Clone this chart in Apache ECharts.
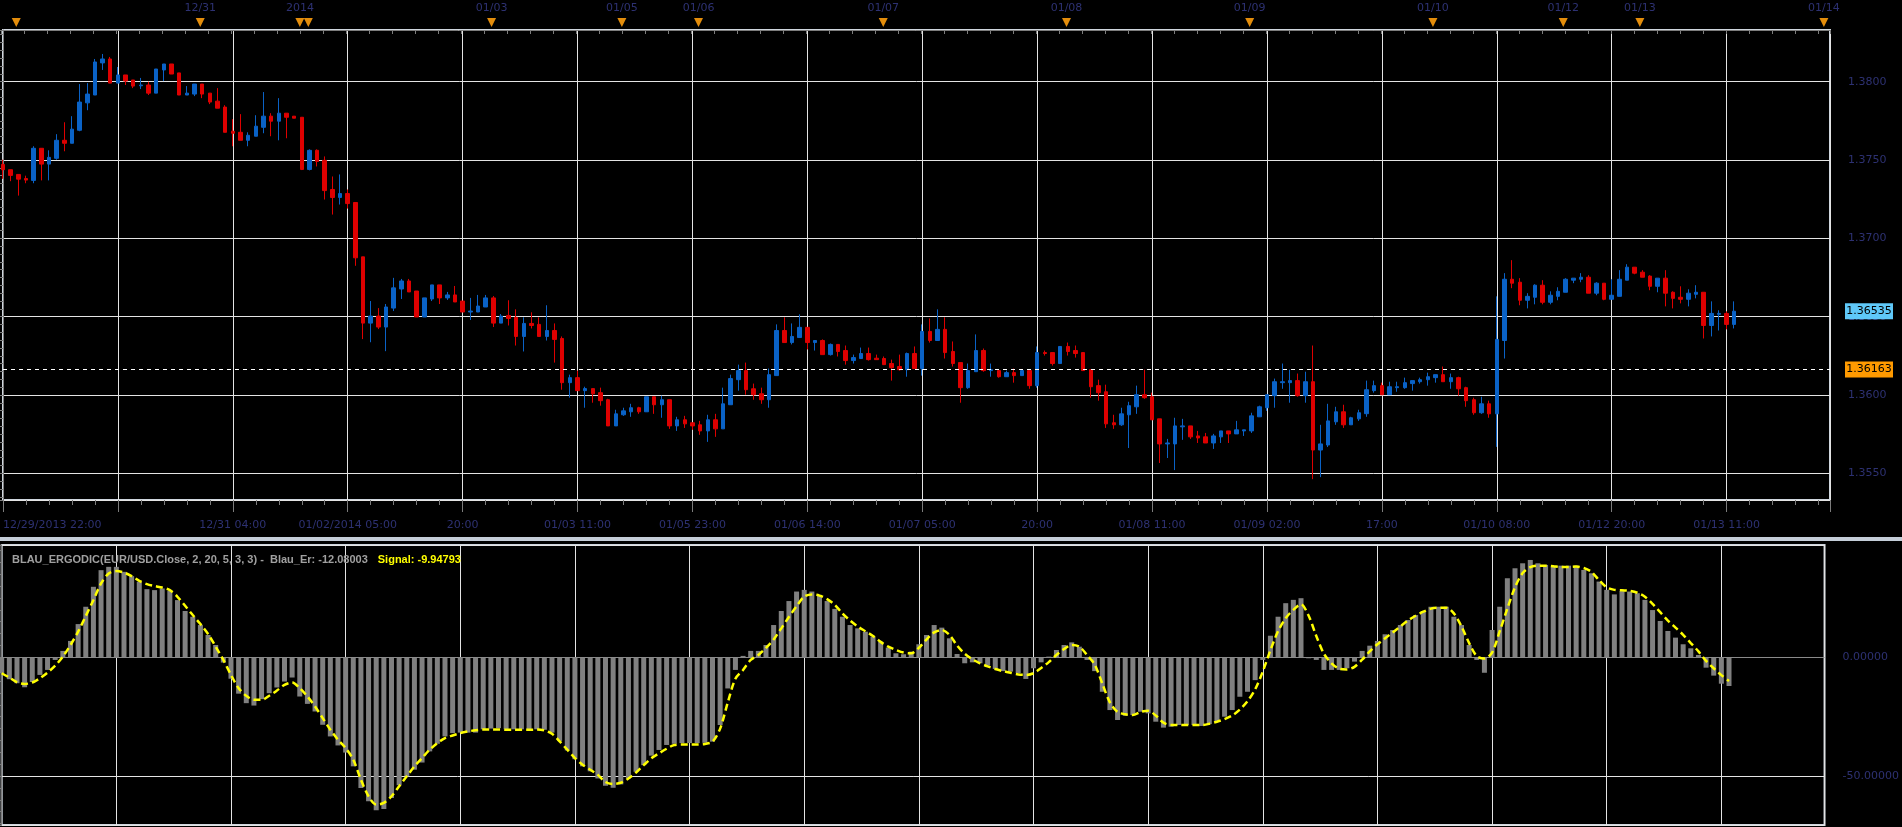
<!DOCTYPE html>
<html>
<head>
<meta charset="utf-8">
<title>EUR/USD H1 - BLAU_ERGODIC</title>
<script src="https://cdn.jsdelivr.net/npm/echarts@6/dist/echarts.min.js"></script>
<style>
  html, body { margin: 0; padding: 0; background: #000; }
  #chart { width: 1902px; height: 827px; }
</style>
</head>
<body>
<div id="chart"></div>
<script>
// hourly candles, one row per bar: [open, close, low, high]
const ohlc = [
  [1.37472, 1.37438, 1.37380, 1.37502], [1.37438, 1.37402, 1.37365, 1.37438], [1.37408, 1.37378, 1.37273, 1.37408],
  [1.37382, 1.37372, 1.37352, 1.37400], [1.37370, 1.37575, 1.37352, 1.37588], [1.37575, 1.37474, 1.37370, 1.37575],
  [1.37474, 1.37517, 1.37370, 1.37562], [1.37511, 1.37626, 1.37502, 1.37665], [1.37626, 1.37607, 1.37556, 1.37741],
  [1.37607, 1.37697, 1.37607, 1.37780], [1.37690, 1.37870, 1.37684, 1.37985], [1.37865, 1.37921, 1.37818, 1.37991],
  [1.37915, 1.38126, 1.37915, 1.38145], [1.38120, 1.38145, 1.38075, 1.38177], [1.38145, 1.37991, 1.37991, 1.38158],
  [1.37991, 1.38043, 1.37991, 1.38094], [1.38043, 1.38004, 1.37979, 1.38043], [1.38011, 1.37972, 1.37959, 1.38011],
  [1.37974, 1.37979, 1.37953, 1.38024], [1.37979, 1.37927, 1.37915, 1.38000], [1.37927, 1.38081, 1.37927, 1.38081],
  [1.38075, 1.38113, 1.38004, 1.38113], [1.38113, 1.38049, 1.38049, 1.38113], [1.38056, 1.37915, 1.37915, 1.38056],
  [1.37915, 1.37927, 1.37915, 1.37972], [1.37921, 1.37985, 1.37908, 1.37985], [1.37985, 1.37921, 1.37895, 1.37985],
  [1.37927, 1.37870, 1.37857, 1.37927], [1.37876, 1.37831, 1.37831, 1.37959], [1.37838, 1.37677, 1.37677, 1.37850],
  [1.37684, 1.37671, 1.37588, 1.37761], [1.37677, 1.37626, 1.37626, 1.37793], [1.37626, 1.37658, 1.37588, 1.37677],
  [1.37652, 1.37716, 1.37652, 1.37786], [1.37709, 1.37780, 1.37671, 1.37934], [1.37780, 1.37748, 1.37652, 1.37799],
  [1.37748, 1.37799, 1.37626, 1.37895], [1.37799, 1.37773, 1.37639, 1.37799], [1.37780, 1.37767, 1.37767, 1.37780],
  [1.37773, 1.37440, 1.37436, 1.37773], [1.37440, 1.37562, 1.37434, 1.37568], [1.37562, 1.37491, 1.37459, 1.37568],
  [1.37498, 1.37305, 1.37248, 1.37523], [1.37312, 1.37261, 1.37152, 1.37395], [1.37261, 1.37286, 1.37216, 1.37408],
  [1.37286, 1.37222, 1.37190, 1.37312], [1.37229, 1.36876, 1.36825, 1.37229], [1.36882, 1.36459, 1.36357, 1.36882],
  [1.36459, 1.36504, 1.36337, 1.36600], [1.36504, 1.36434, 1.36421, 1.36555], [1.36434, 1.36562, 1.36280, 1.36581],
  [1.36555, 1.36684, 1.36536, 1.36748], [1.36677, 1.36728, 1.36613, 1.36741], [1.36728, 1.36658, 1.36658, 1.36741],
  [1.36664, 1.36498, 1.36498, 1.36664], [1.36498, 1.36620, 1.36498, 1.36620], [1.36613, 1.36703, 1.36600, 1.36703],
  [1.36703, 1.36620, 1.36581, 1.36703], [1.36620, 1.36639, 1.36607, 1.36658], [1.36639, 1.36594, 1.36594, 1.36696],
  [1.36600, 1.36530, 1.36530, 1.36600], [1.36530, 1.36536, 1.36479, 1.36620], [1.36530, 1.36568, 1.36530, 1.36639],
  [1.36562, 1.36620, 1.36562, 1.36639], [1.36620, 1.36459, 1.36434, 1.36632], [1.36459, 1.36504, 1.36459, 1.36517],
  [1.36508, 1.36489, 1.36444, 1.36605], [1.36496, 1.36374, 1.36316, 1.36547], [1.36374, 1.36457, 1.36278, 1.36496],
  [1.36457, 1.36444, 1.36425, 1.36528], [1.36451, 1.36374, 1.36374, 1.36496], [1.36374, 1.36412, 1.36348, 1.36573],
  [1.36412, 1.36355, 1.36207, 1.36457], [1.36361, 1.36079, 1.36034, 1.36374], [1.36079, 1.36111, 1.35983, 1.36130],
  [1.36111, 1.36028, 1.36028, 1.36156], [1.36028, 1.36041, 1.35919, 1.36053], [1.36041, 1.36008, 1.35951, 1.36041],
  [1.36015, 1.35964, 1.35932, 1.36047], [1.35970, 1.35803, 1.35803, 1.35976], [1.35803, 1.35880, 1.35803, 1.35906],
  [1.35874, 1.35899, 1.35867, 1.35919], [1.35893, 1.35919, 1.35861, 1.35944], [1.35919, 1.35893, 1.35880, 1.35925],
  [1.35893, 1.35989, 1.35893, 1.35989], [1.35989, 1.35938, 1.35880, 1.35989], [1.35938, 1.35970, 1.35855, 1.35996],
  [1.35970, 1.35803, 1.35784, 1.35970], [1.35803, 1.35842, 1.35771, 1.35861], [1.35842, 1.35816, 1.35790, 1.35867],
  [1.35823, 1.35803, 1.35778, 1.35823], [1.35810, 1.35771, 1.35746, 1.35835], [1.35771, 1.35842, 1.35701, 1.35874],
  [1.35842, 1.35784, 1.35733, 1.35880], [1.35784, 1.35944, 1.35784, 1.36047], [1.35938, 1.36105, 1.35938, 1.36130],
  [1.36098, 1.36156, 1.36028, 1.36194], [1.36156, 1.36034, 1.36002, 1.36207], [1.36040, 1.36002, 1.35970, 1.36073],
  [1.36008, 1.35970, 1.35944, 1.36047], [1.35970, 1.36130, 1.35919, 1.36169], [1.36124, 1.36412, 1.36124, 1.36451],
  [1.36412, 1.36335, 1.36335, 1.36496], [1.36335, 1.36374, 1.36323, 1.36457], [1.36367, 1.36432, 1.36367, 1.36515],
  [1.36432, 1.36335, 1.36291, 1.36432], [1.36335, 1.36348, 1.36284, 1.36348], [1.36348, 1.36258, 1.36258, 1.36355],
  [1.36258, 1.36323, 1.36252, 1.36329], [1.36323, 1.36278, 1.36246, 1.36323], [1.36284, 1.36220, 1.36194, 1.36316],
  [1.36220, 1.36239, 1.36201, 1.36258], [1.36233, 1.36265, 1.36233, 1.36303], [1.36265, 1.36226, 1.36220, 1.36303],
  [1.36235, 1.36226, 1.36226, 1.36258], [1.36233, 1.36194, 1.36194, 1.36246], [1.36201, 1.36175, 1.36092, 1.36226],
  [1.36182, 1.36162, 1.36156, 1.36258], [1.36162, 1.36265, 1.36117, 1.36271], [1.36265, 1.36169, 1.36169, 1.36310],
  [1.36169, 1.36406, 1.36124, 1.36451], [1.36406, 1.36348, 1.36335, 1.36489], [1.36348, 1.36419, 1.36348, 1.36547],
  [1.36419, 1.36271, 1.36233, 1.36496], [1.36278, 1.36201, 1.36182, 1.36342], [1.36207, 1.36047, 1.35951, 1.36207],
  [1.36047, 1.36156, 1.36040, 1.36201], [1.36149, 1.36284, 1.36149, 1.36387], [1.36284, 1.36156, 1.36149, 1.36297],
  [1.36156, 1.36162, 1.36117, 1.36201], [1.36156, 1.36117, 1.36111, 1.36156], [1.36117, 1.36143, 1.36117, 1.36156],
  [1.36143, 1.36124, 1.36079, 1.36169], [1.36124, 1.36156, 1.36124, 1.36162], [1.36156, 1.36060, 1.36040, 1.36156],
  [1.36060, 1.36271, 1.36047, 1.36310], [1.36271, 1.36265, 1.36252, 1.36284], [1.36271, 1.36201, 1.36188, 1.36271],
  [1.36201, 1.36310, 1.36201, 1.36310], [1.36310, 1.36278, 1.36252, 1.36335], [1.36284, 1.36265, 1.36239, 1.36316],
  [1.36271, 1.36156, 1.36156, 1.36271], [1.36162, 1.36053, 1.35983, 1.36162], [1.36060, 1.36015, 1.35964, 1.36098],
  [1.36021, 1.35816, 1.35790, 1.36066], [1.35823, 1.35810, 1.35784, 1.35874], [1.35810, 1.35880, 1.35803, 1.35919],
  [1.35874, 1.35932, 1.35662, 1.35957], [1.35925, 1.36002, 1.35880, 1.36060], [1.36002, 1.35983, 1.35976, 1.36162],
  [1.35989, 1.35842, 1.35842, 1.36015], [1.35848, 1.35688, 1.35566, 1.35848], [1.35688, 1.35694, 1.35598, 1.35720],
  [1.35688, 1.35803, 1.35521, 1.35855], [1.35797, 1.35803, 1.35714, 1.35848], [1.35803, 1.35733, 1.35720, 1.35803],
  [1.35739, 1.35726, 1.35694, 1.35771], [1.35733, 1.35694, 1.35694, 1.35758], [1.35694, 1.35739, 1.35656, 1.35752],
  [1.35733, 1.35771, 1.35694, 1.35771], [1.35771, 1.35752, 1.35694, 1.35771], [1.35752, 1.35778, 1.35752, 1.35835],
  [1.35771, 1.35778, 1.35739, 1.35778], [1.35771, 1.35867, 1.35758, 1.35887], [1.35861, 1.35925, 1.35861, 1.35932],
  [1.35919, 1.36002, 1.35899, 1.36002], [1.35996, 1.36085, 1.35919, 1.36105], [1.36079, 1.36085, 1.36040, 1.36201],
  [1.36079, 1.36092, 1.35951, 1.36162], [1.36092, 1.35996, 1.35989, 1.36137], [1.35996, 1.36085, 1.35951, 1.36149],
  [1.36085, 1.35649, 1.35463, 1.36316], [1.35649, 1.35688, 1.35476, 1.35810], [1.35681, 1.35835, 1.35668, 1.35944],
  [1.35829, 1.35893, 1.35810, 1.35925], [1.35893, 1.35810, 1.35790, 1.35938], [1.35810, 1.35855, 1.35810, 1.35861],
  [1.35848, 1.35887, 1.35835, 1.35906], [1.35881, 1.36034, 1.35861, 1.36092], [1.36028, 1.36060, 1.36015, 1.36092],
  [1.36060, 1.36002, 1.36002, 1.36079], [1.36002, 1.36053, 1.36002, 1.36085], [1.36047, 1.36053, 1.36021, 1.36085],
  [1.36047, 1.36079, 1.36040, 1.36111], [1.36073, 1.36092, 1.36028, 1.36092], [1.36085, 1.36098, 1.36073, 1.36111],
  [1.36098, 1.36117, 1.36060, 1.36143], [1.36111, 1.36130, 1.36079, 1.36130], [1.36130, 1.36085, 1.36085, 1.36182],
  [1.36085, 1.36111, 1.36040, 1.36137], [1.36111, 1.36040, 1.35996, 1.36117], [1.36047, 1.35964, 1.35925, 1.36053],
  [1.35970, 1.35887, 1.35874, 1.35983], [1.35887, 1.35944, 1.35880, 1.35989], [1.35944, 1.35880, 1.35855, 1.35964],
  [1.35880, 1.36355, 1.35669, 1.36630], [1.36348, 1.36739, 1.36233, 1.36778], [1.36739, 1.36714, 1.36682, 1.36861],
  [1.36720, 1.36605, 1.36573, 1.36746], [1.36605, 1.36630, 1.36553, 1.36650], [1.36624, 1.36701, 1.36579, 1.36707],
  [1.36701, 1.36592, 1.36579, 1.36733], [1.36592, 1.36637, 1.36579, 1.36662], [1.36630, 1.36662, 1.36605, 1.36688],
  [1.36656, 1.36739, 1.36656, 1.36746], [1.36733, 1.36746, 1.36714, 1.36746], [1.36739, 1.36752, 1.36720, 1.36778],
  [1.36752, 1.36650, 1.36650, 1.36765], [1.36650, 1.36714, 1.36637, 1.36720], [1.36714, 1.36611, 1.36605, 1.36714],
  [1.36611, 1.36637, 1.36611, 1.36739], [1.36630, 1.36739, 1.36630, 1.36797], [1.36733, 1.36816, 1.36733, 1.36835],
  [1.36816, 1.36778, 1.36771, 1.36816], [1.36784, 1.36752, 1.36752, 1.36797], [1.36759, 1.36694, 1.36669, 1.36765],
  [1.36694, 1.36746, 1.36656, 1.36746], [1.36746, 1.36650, 1.36566, 1.36797], [1.36656, 1.36617, 1.36553, 1.36662],
  [1.36624, 1.36611, 1.36585, 1.36694], [1.36611, 1.36650, 1.36566, 1.36675], [1.36643, 1.36656, 1.36617, 1.36701],
  [1.36656, 1.36444, 1.36361, 1.36656], [1.36444, 1.36521, 1.36374, 1.36598], [1.36515, 1.36521, 1.36412, 1.36541],
  [1.36521, 1.36451, 1.36419, 1.36534], [1.36451, 1.36535, 1.36425, 1.36598]
];

// indicator histogram (Blau_Er), one value per candle
const blauEr = [
  -6.7, -9.2, -10.9, -12.6, -10.4, -7.4, -5.3, -1.1, 2.7, 6.9,
  14.0, 21.3, 29.7, 36.7, 38.1, 38.1, 36.0, 34.2, 31.8, 28.7,
  28.3, 29.0, 28.0, 24.1, 19.5, 17.1, 13.6, 9.4, 5.2, -2.2,
  -9.0, -15.3, -19.3, -20.3, -17.6, -15.1, -12.7, -10.2, -8.5, -16.5,
  -19.6, -22.8, -28.4, -33.3, -37.1, -40.1, -45.9, -55.0, -60.6, -64.4,
  -63.9, -59.2, -53.9, -50.1, -47.3, -44.3, -39.6, -36.4, -33.3, -31.9,
  -31.7, -31.7, -31.7, -30.3, -30.0, -29.8, -30.3, -30.3, -30.3, -30.3,
  -30.3, -30.5, -31.7, -35.2, -39.2, -42.9, -45.9, -48.0, -51.0, -54.1,
  -54.9, -53.5, -51.0, -48.2, -45.4, -41.4, -39.0, -36.9, -36.4, -36.1,
  -36.1, -36.1, -36.0, -35.5, -28.5, -13.1, -5.3, 0.6, 2.7, 2.7,
  5.2, 13.6, 19.5, 23.7, 27.7, 28.4, 27.7, 26.3, 23.7, 20.4,
  17.1, 13.6, 12.2, 10.8, 8.7, 6.6, 4.1, 1.7, 1.3, 2.4,
  5.5, 9.4, 13.6, 12.5, 8.0, 1.4, -2.5, -2.1, -2.5, -3.5,
  -4.9, -5.8, -6.0, -6.7, -9.1, -4.6, -2.1, 0.3, 3.1, 5.2,
  6.3, 4.5, -1.1, -5.8, -14.5, -22.2, -26.4, -24.6, -24.3, -22.9,
  -23.6, -27.1, -29.6, -29.2, -28.5, -28.5, -28.5, -28.9, -28.1, -27.1,
  -25.0, -22.2, -16.6, -14.5, -9.6, -1.1, 9.1, 17.1, 22.8, 24.2,
  24.9, -0.4, -1.1, -5.3, -5.3, -5.3, -4.6, -1.8, 2.7, 4.9,
  6.9, 9.7, 11.5, 13.6, 15.7, 17.8, 19.5, 21.3, 21.3, 21.3,
  17.1, 13.6, 5.2, -1.1, -6.5, 11.5, 21.3, 33.3, 37.5, 39.6,
  41.0, 39.6, 38.9, 38.2, 38.6, 38.6, 38.6, 36.8, 35.4, 31.9,
  28.4, 26.5, 27.9, 27.7, 27.0, 24.2, 19.9, 15.3, 11.1, 8.3,
  5.5, 3.8, 1.0, -4.35, -7.7, -11.1, -12.08003
];

// signal line, one value per candle
const signal = [
  -6.7, -8.5, -10.5, -11.2, -10.6, -8.8, -6.4, -3.5, 0.3, 5.2,
  10.8, 17.4, 24.1, 31.1, 35.3, 36.3, 35.7, 34.2, 32.2, 30.8,
  30.0, 29.4, 28.3, 25.5, 21.7, 17.8, 14.0, 9.8, 4.5, -1.1,
  -7.4, -13.0, -16.2, -17.9, -17.9, -16.2, -14.0, -11.6, -10.6, -13.0,
  -16.5, -20.7, -25.6, -30.5, -34.7, -38.2, -43.1, -51.5, -58.5, -62.0,
  -61.3, -58.5, -54.3, -50.1, -45.9, -42.4, -38.9, -36.1, -34.0, -32.9,
  -31.9, -31.2, -30.7, -30.4, -30.4, -30.4, -30.5, -30.5, -30.5, -30.5,
  -30.4, -30.8, -32.2, -35.4, -38.9, -42.4, -45.2, -47.3, -49.5, -52.5,
  -53.3, -52.8, -51.0, -48.5, -45.4, -42.5, -40.4, -38.5, -36.9, -36.7,
  -36.7, -36.7, -36.5, -35.5, -30.0, -19.0, -9.0, -5.3, -1.1, 1.0,
  4.0, 7.5, 12.2, 17.0, 21.5, 25.6, 26.5, 26.0, 24.5, 22.1,
  18.5, 15.5, 13.0, 11.0, 9.0, 6.5, 4.5, 3.1, 2.0, 1.7,
  4.0, 7.5, 10.5, 11.5, 9.5, 5.0, 1.5, -0.8, -2.5, -3.8,
  -4.9, -5.8, -6.5, -7.2, -7.4, -6.7, -4.5, -2.0, 1.0, 3.5,
  5.2, 4.5, 1.0, -3.0, -11.0, -19.0, -23.0, -24.0, -24.3, -23.0,
  -22.5, -24.5, -27.5, -28.5, -28.5, -28.5, -28.5, -28.5, -28.0, -27.1,
  -26.0, -24.5, -22.0, -18.5, -13.5, -6.0, 3.0, 11.0, 16.5, 20.0,
  22.3, 17.5, 9.0, 1.5, -2.5, -4.8, -5.1, -4.0, -1.0, 2.5,
  5.5, 8.0, 10.5, 13.0, 15.5, 17.5, 19.2, 20.5, 20.9, 20.9,
  18.5, 13.0, 6.0, 0.5, -0.5, 2.0, 11.0, 20.5, 29.5, 35.5,
  38.0, 38.6, 38.6, 38.4, 38.0, 38.0, 38.2, 37.6, 36.0, 32.5,
  29.5, 28.4, 28.2, 28.0, 27.2, 25.5, 22.5, 19.0, 15.5, 12.5,
  9.5, 6.0, 2.5, -1.5, -4.6, -7.5, -9.94793
];

// bottom time labels, one per 15 bars (grid line)
const timeLabels = [
  '12/29/2013 22:00', '', '12/31 04:00', '01/02/2014 05:00', '20:00', '01/03 11:00',
  '01/05 23:00', '01/06 14:00', '01/07 05:00', '20:00', '01/08 11:00', '01/09 02:00',
  '17:00', '01/10 08:00', '01/12 20:00', '01/13 11:00'
];

// day separators on the top scale: [bar position, label]
const dayMarks = [
  [1.9, ''], [25.9, '12/31'], [38.9, '2014'], [40.0, ''], [63.9, '01/03'],
  [80.9, '01/05'], [90.9, '01/06'], [115.0, '01/07'], [138.9, '01/08'],
  [162.8, '01/09'], [186.7, '01/10'], [203.7, '01/12'], [213.7, '01/13'], [237.7, '01/14']
];

const lastPrice = 1.36535;
const refPrice = 1.36163;

const X_MAX = 238.5;
const NAVY = '#2d3172';
const GRID_LINE = '#e4e4e4';
const AXIS_GRAY = '#7c7c7c';
const FRAME = '#cfd6de';
const AXIS_FONT = 'DejaVu Sans';

const chart = echarts.init(document.getElementById('chart'));

function xLabel(v) {
  const k = Math.round(v / 15);
  if (Math.abs(v - k * 15) > 1e-6) return '';
  return timeLabels[k] || '';
}

chart.setOption({
  backgroundColor: '#000',
  animation: false,
  title: {
    left: 7,
    top: 546,
    text: '{a|BLAU_ERGODIC(EUR/USD.Close, 2, 20, 5, 3, 3) -  Blau_Er: ' +
      blauEr[blauEr.length - 1].toFixed(5) + '}  {b|Signal: ' +
      signal[signal.length - 1].toFixed(5) + '}',
    textStyle: {
      rich: {
        a: { color: '#a0a0a0', fontSize: 11, fontFamily: 'Liberation Sans' },
        b: { color: '#ffff00', fontSize: 11, fontFamily: 'Liberation Sans' }
      }
    }
  },
  graphic: [
    { type: 'rect', shape: { x: 0, y: 537, width: 1902, height: 4 }, style: { fill: '#c4cdd8' }, silent: true }
  ],
  grid: [
    { left: 1.7, right: 72, top: 30, height: 470, show: true, borderColor: FRAME, borderWidth: 2, backgroundColor: 'transparent' },
    { left: 1.7, right: 72, top: 545, height: 280, show: true, borderColor: FRAME, borderWidth: 2, backgroundColor: 'transparent' },
    { left: 1.7, right: 72, top: 17, height: 13 }
  ],
  xAxis: [
    {
      type: 'value', gridIndex: 0, min: 0, max: X_MAX, interval: 15,
      axisLine: { show: false },
      axisTick: { show: true, length: 12, lineStyle: { color: AXIS_GRAY } },
      minorTick: { show: true, splitNumber: 5, length: 5, lineStyle: { color: AXIS_GRAY } },
      axisLabel: {
        color: NAVY, fontSize: 11, fontFamily: AXIS_FONT, margin: 20,
        formatter: xLabel, alignMinLabel: 'left', showMaxLabel: false
      },
      splitLine: { show: true, lineStyle: { color: GRID_LINE, width: 1 } }
    },
    {
      type: 'value', gridIndex: 1, min: 0, max: X_MAX, interval: 15,
      axisLine: { show: false }, axisTick: { show: false }, axisLabel: { show: false },
      splitLine: { show: true, lineStyle: { color: GRID_LINE, width: 1 } }
    },
    {
      type: 'value', gridIndex: 2, position: 'top', min: 0, max: X_MAX, interval: 15,
      axisLine: { show: true, lineStyle: { color: AXIS_GRAY } },
      axisTick: { show: true, inside: true, length: 4, lineStyle: { color: AXIS_GRAY } },
      minorTick: { show: true, splitNumber: 5, length: 4, lineStyle: { color: AXIS_GRAY } },
      axisLabel: { show: false }, splitLine: { show: false }
    }
  ],
  yAxis: [
    {
      type: 'value', gridIndex: 0, position: 'right', offset: 14,
      min: 1.3533, max: 1.3833, splitNumber: 6, scale: true,
      axisLine: { show: true, lineStyle: { color: AXIS_GRAY } },
      axisTick: { show: true, inside: true, length: 14, lineStyle: { color: AXIS_GRAY } },
      minorTick: { show: true, splitNumber: 10, length: 6, lineStyle: { color: AXIS_GRAY } },
      axisLabel: {
        color: NAVY, fontSize: 11, fontFamily: AXIS_FONT, margin: 4,
        showMinLabel: false, showMaxLabel: false,
        formatter: v => v.toFixed(4)
      },
      splitLine: { show: true, lineStyle: { color: GRID_LINE, width: 1 } }
    },
    {
      type: 'value', gridIndex: 1, position: 'right', offset: 14,
      min: -70.6, max: 47.3, splitNumber: 2,
      axisLine: { show: true, lineStyle: { color: AXIS_GRAY } },
      axisTick: { show: true, inside: true, length: 14, lineStyle: { color: AXIS_GRAY } },
      minorTick: { show: true, splitNumber: 10, length: 6, lineStyle: { color: AXIS_GRAY } },
      axisLabel: {
        color: NAVY, fontSize: 11, fontFamily: AXIS_FONT, margin: 4,
        showMinLabel: false, showMaxLabel: false,
        formatter: v => v.toFixed(5)
      },
      splitLine: { show: true, lineStyle: { color: GRID_LINE, width: 1 } }
    },
    { type: 'value', gridIndex: 2, min: 0, max: 1, show: false }
  ],
  series: [
    {
      name: 'EUR/USD',
      type: 'candlestick',
      xAxisIndex: 0, yAxisIndex: 0,
      clip: false,
      barWidth: 4,
      encode: { x: 0, y: [1, 2, 3, 4] },
      data: ohlc.map((d, i) => [i, d[0], d[1], d[2], d[3]]),
      itemStyle: {
        color: '#0a62c6', color0: '#de0000',
        borderColor: '#0a62c6', borderColor0: '#de0000', borderWidth: 1
      },
      markLine: {
        silent: true, symbol: 'none', animation: false,
        precision: 5,
        label: { show: false },
        lineStyle: { color: '#ffffff', width: 1, type: [4, 4] },
        data: [{ yAxis: refPrice }]
      }
    },
    {
      // price tags on the right scale
      name: 'tags',
      type: 'scatter',
      xAxisIndex: 0, yAxisIndex: 0,
      clip: false,
      silent: true,
      symbol: 'rect',
      symbolSize: [48, 16],
      symbolOffset: [39, 0],
      z: 10,
      data: [
        { value: [X_MAX, lastPrice], itemStyle: { color: '#5fc8f8', opacity: 1 } },
        { value: [X_MAX, refPrice], itemStyle: { color: '#ff9a00', opacity: 1 } }
      ],
      label: {
        show: true, position: 'inside',
        formatter: p => p.value[1].toFixed(5),
        color: '#000', fontSize: 11, fontFamily: AXIS_FONT
      }
    },
    {
      name: 'Blau_Er',
      type: 'bar',
      xAxisIndex: 1, yAxisIndex: 1,
      barWidth: 5,
      data: blauEr.map((v, i) => [i, v]),
      itemStyle: { color: '#808080' },
      markLine: {
        silent: true, symbol: 'none', animation: false,
        label: { show: false },
        lineStyle: { color: '#8a8a8a', width: 1, type: 'solid' },
        data: [{ yAxis: 0 }]
      }
    },
    {
      name: 'Signal',
      type: 'line',
      xAxisIndex: 1, yAxisIndex: 1,
      data: signal.map((v, i) => [i, v]),
      showSymbol: false,
      smooth: 0.3,
      lineStyle: { color: '#ffff00', width: 2.5, type: [7, 4] },
      z: 5
    },
    {
      name: 'days',
      type: 'scatter',
      xAxisIndex: 2, yAxisIndex: 2,
      data: dayMarks.map(d => [d[0], 0.58, d[1]]),
      symbol: 'triangle',
      symbolRotate: 180,
      symbolSize: [9, 9],
      itemStyle: { color: '#e38d0c', opacity: 1 },
      clip: false,
      label: {
        show: true, position: 'top', distance: 4,
        formatter: p => p.data[2],
        color: NAVY, fontSize: 11, fontFamily: AXIS_FONT
      }
    }
  ]
});
</script>
</body>
</html>
